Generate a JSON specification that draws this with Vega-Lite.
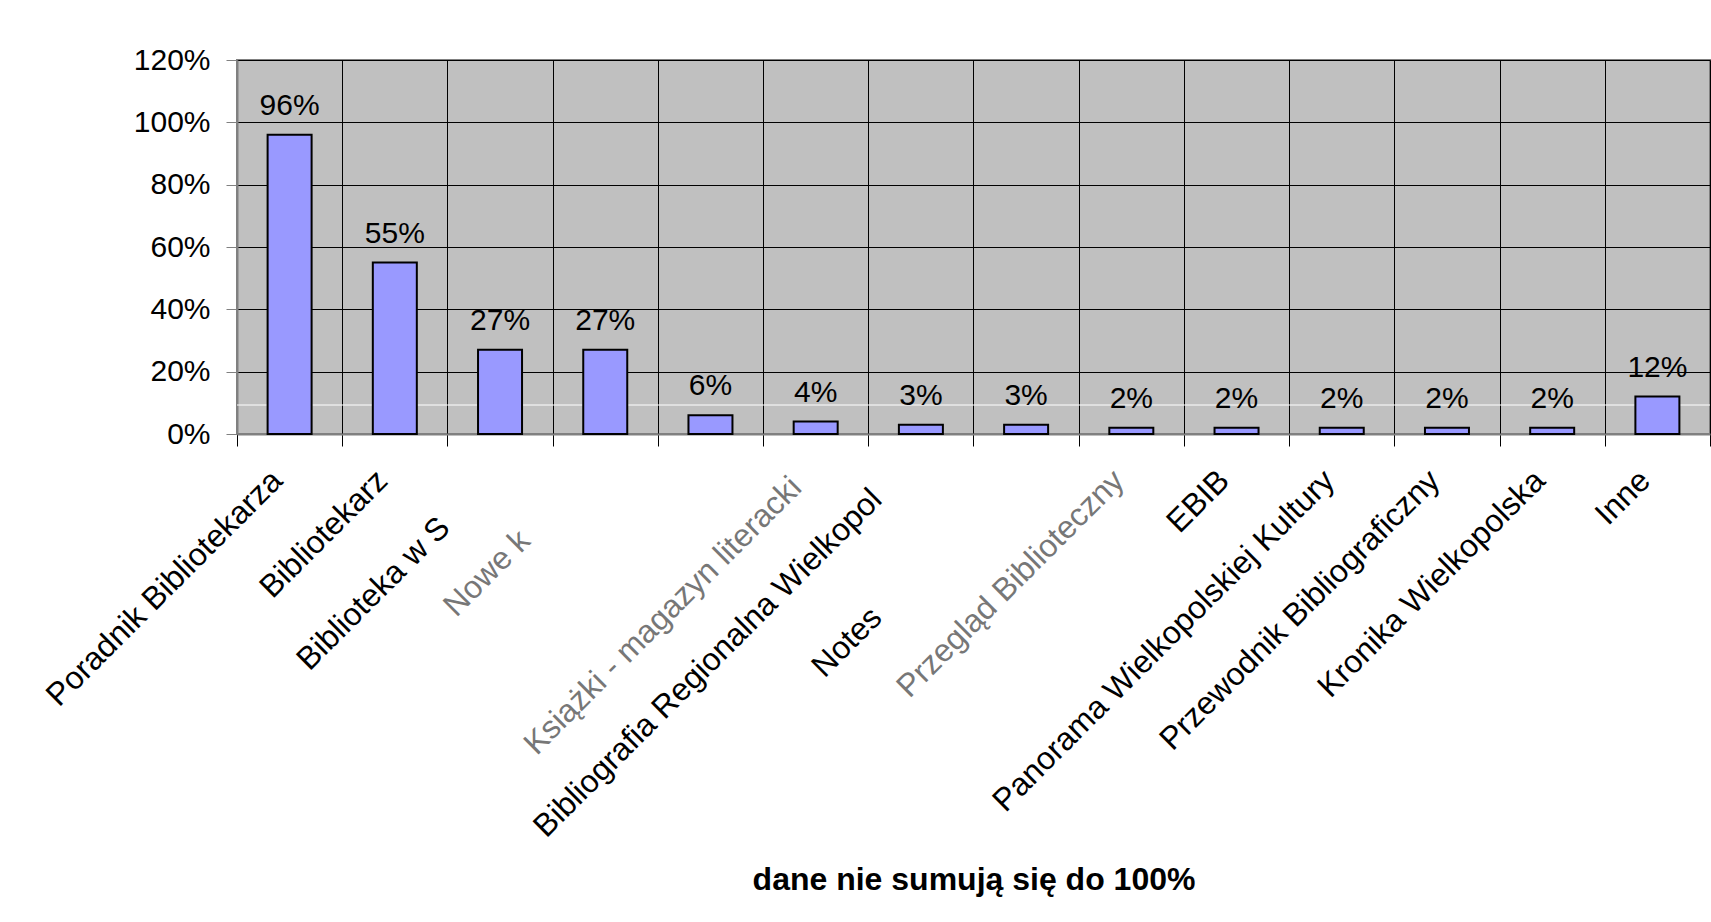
{
  "$schema": "https://vega.github.io/schema/vega-lite/v6.json",
  "width": 1473,
  "height": 374,
  "autosize": {"type": "none"},
  "padding": {"left": 237, "top": 60, "right": 1, "bottom": 488},
  "background": "white",
  "config": {
    "font": "Liberation Sans",
    "view": {"fill": "#C0C0C0", "stroke": "#808080", "strokeWidth": 2}
  },
  "data": {
    "values": [
      {"label": "Poradnik Bibliotekarza", "value": 0.96},
      {"label": "Bibliotekarz", "value": 0.55},
      {"label": "Biblioteka w S", "value": 0.27},
      {"label": "Nowe k", "value": 0.27},
      {"label": " ", "value": 0.06},
      {"label": "Książki - magazyn literacki", "value": 0.04},
      {"label": "Bibliografia Regionalna Wielkopol", "value": 0.03},
      {"label": "Notes", "value": 0.03},
      {"label": "Przegląd Biblioteczny", "value": 0.02},
      {"label": "EBIB", "value": 0.02},
      {"label": "Panorama Wielkopolskiej Kultury", "value": 0.02},
      {"label": "Przewodnik Bibliograficzny", "value": 0.02},
      {"label": "Kronika Wielkopolska", "value": 0.02},
      {"label": "Inne", "value": 0.12}
    ]
  },
  "encoding": {
    "x": {
      "field": "label",
      "type": "nominal",
      "sort": null,
      "scale": {"paddingInner": 0, "paddingOuter": 0},
      "axis": {
        "title": "dane nie sumują się do 100%",
        "titleFontSize": 32,
        "titleFontWeight": "bold",
        "titleColor": "black",
        "titlePadding": 230,
        "labelAngle": -45,
        "labelAlign": "right",
        "labelBaseline": "middle",
        "labelFontSize": 32,
        "labelColor": {
          "condition": {"test": "datum.value === 'Nowe k' || datum.value === 'Książki - magazyn literacki' || datum.value === 'Przegląd Biblioteczny'", "value": "#777777"},
          "value": "black"
        },
        "labelOffset": {
          "condition": [
            {"test": "datum.value === 'Biblioteka w S'", "value": -56},
            {"test": "datum.value === 'Nowe k'", "value": -81},
            {"test": "datum.value === 'Książki - magazyn literacki'", "value": -20},
            {"test": "datum.value === 'Bibliografia Regionalna Wielkopol'", "value": -45},
            {"test": "datum.value === 'Notes'", "value": -150}
          ],
          "value": -13
        },
        "labelPadding": {
          "condition": [
            {"test": "datum.value === 'Biblioteka w S'", "value": 76},
            {"test": "datum.value === 'Nowe k'", "value": 89},
            {"test": "datum.value === 'Książki - magazyn literacki'", "value": 36},
            {"test": "datum.value === 'Bibliografia Regionalna Wielkopol'", "value": 48},
            {"test": "datum.value === 'Notes'", "value": 166}
          ],
          "value": 29
        },
        "labelLimit": 2000,
        "labelOverlap": false,
        "tickBand": "extent",
        "tickSize": 12,
        "tickColor": "black",
        "grid": true,
        "gridColor": "black",
        "gridWidth": 1,
        "domainColor": "#808080",
        "domainWidth": 2
      }
    },
    "y": {
      "field": "value",
      "type": "quantitative",
      "scale": {"domain": [0, 1.2], "nice": false},
      "axis": {
        "title": null,
        "format": ".0%",
        "values": [0, 0.2, 0.4, 0.6, 0.8, 1.0, 1.2],
        "labelFontSize": 30,
        "labelColor": "black",
        "labelPadding": 16,
        "tickSize": 11,
        "tickColor": "#808080",
        "grid": true,
        "gridColor": "black",
        "gridWidth": 1,
        "domainColor": "#808080",
        "domainWidth": 2
      }
    }
  },
  "layer": [
    {
      "data": {"values": [{"v": 0.093}]},
      "mark": {"type": "rule", "color": "white", "strokeWidth": 1},
      "encoding": {
        "x": {"value": 0},
        "x2": {"value": "width"},
        "y": {"field": "v", "type": "quantitative"}
      }
    },
    {
      "mark": {"type": "bar", "fill": "#9999FF", "stroke": "black", "strokeWidth": 2, "width": 44}
    },
    {
      "mark": {"type": "text", "fontSize": 30, "baseline": "alphabetic", "dy": -20, "color": "black"},
      "encoding": {
        "text": {"field": "value", "format": ".0%"}
      }
    }
  ]
}
